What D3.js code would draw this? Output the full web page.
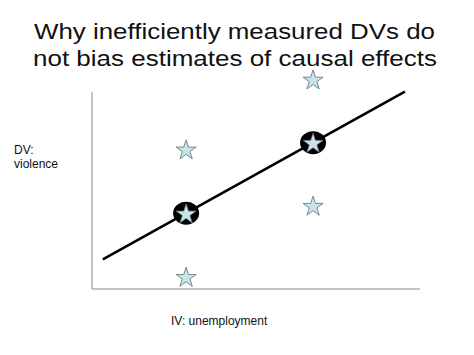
<!DOCTYPE html>
<html>
<head>
<meta charset="utf-8">
<script src="https://cdn.jsdelivr.net/npm/d3@7"></script>
<style>
  body { margin: 0; background: #fff; }
  svg { display: block; font-family: "Liberation Sans", Arial, sans-serif; }
</style>
</head>
<body>
<div id="chart"></div>
<script>
// Data: two unemployment levels, three observed violence values at each
const xLevels = [2.87, 6.74];
const yLeft = [7.09, 3.84, 0.62];
const yRight = [10.64, 7.43, 4.23];
// Group means (true values) shown circled
const meanY = [3.85, 7.43];
// Fitted line end points
const lineX = [0.33, 9.54];
const lineY = [1.5, 10.02];

const titleLines = ['Why inefficiently measured DVs do', 'not bias estimates of causal effects'];

const width = 474;
const height = 355;

const svg = d3.select('#chart')
    .append('svg')
    .attr('width', width)
    .attr('height', height);

// Scales map data to the plot box
const x = d3.scaleLinear().domain([0, 10]).range([92, 420]);
const y = d3.scaleLinear().domain([0, 10]).range([289, 92]);

// Title, stretched to the width seen in the reference
svg.append('text')
    .attr('font-size', '22.5px')
    .attr('fill', '#111')
    .selectAll('tspan')
    .data(titleLines)
    .enter()
    .append('tspan')
    .attr('x', (d, i) => i === 0 ? 34 : 33)
    .attr('y', (d, i) => 38.5 + i * 27)
    .attr('textLength', (d, i) => i === 0 ? 401 : 404)
    .attr('lengthAdjust', 'spacingAndGlyphs')
    .text(d => d);

// Axes (plain lines, no ticks)
svg.append('line')
    .attr('x1', x(0)).attr('x2', x(0))
    .attr('y1', y(0)).attr('y2', y(10))
    .attr('stroke', '#888').attr('stroke-width', 1);
svg.append('line')
    .attr('x1', x(0)).attr('x2', x(10))
    .attr('y1', y(0)).attr('y2', y(0))
    .attr('stroke', '#888').attr('stroke-width', 1);

// Axis labels
const dvLabel = svg.append('text')
    .attr('font-size', '12px')
    .attr('fill', '#111');
dvLabel.append('tspan').attr('x', 14).attr('y', 154).text('DV:');
dvLabel.append('tspan').attr('x', 14).attr('y', 168).text('violence');

svg.append('text')
    .attr('x', 171)
    .attr('y', 325)
    .attr('font-size', '12px')
    .attr('fill', '#111')
    .text('IV: unemployment');

// Fitted line
svg.append('path')
    .datum(lineX.map((d, i) => [d, lineY[i]]))
    .attr('fill', 'none')
    .attr('stroke', '#000')
    .attr('stroke-width', 2.6)
    .attr('d', d3.line().x(d => x(d[0])).y(d => y(d[1])));

// Black ellipses around the means
svg.selectAll('ellipse.mean')
    .data(xLevels.map((d, i) => [d, meanY[i]]))
    .enter()
    .append('ellipse')
    .attr('class', 'mean')
    .attr('cx', d => x(d[0]))
    .attr('cy', d => y(d[1]))
    .attr('rx', 13)
    .attr('ry', 11.5)
    .attr('fill', '#000');

// Star points
const points = [];
yLeft.forEach(v => points.push([xLevels[0], v]));
yRight.forEach(v => points.push([xLevels[1], v]));

const star = d3.symbol().type(d3.symbolStar).size(125);

svg.selectAll('path.star')
    .data(points)
    .enter()
    .append('path')
    .attr('class', 'star')
    .attr('d', star)
    .attr('transform', d => `translate(${x(d[0])},${y(d[1]) + 1})`)
    .attr('fill', '#c8e4ea')
    .attr('stroke', '#5f6f73')
    .attr('stroke-width', 0.8);
</script>
</body>
</html>
